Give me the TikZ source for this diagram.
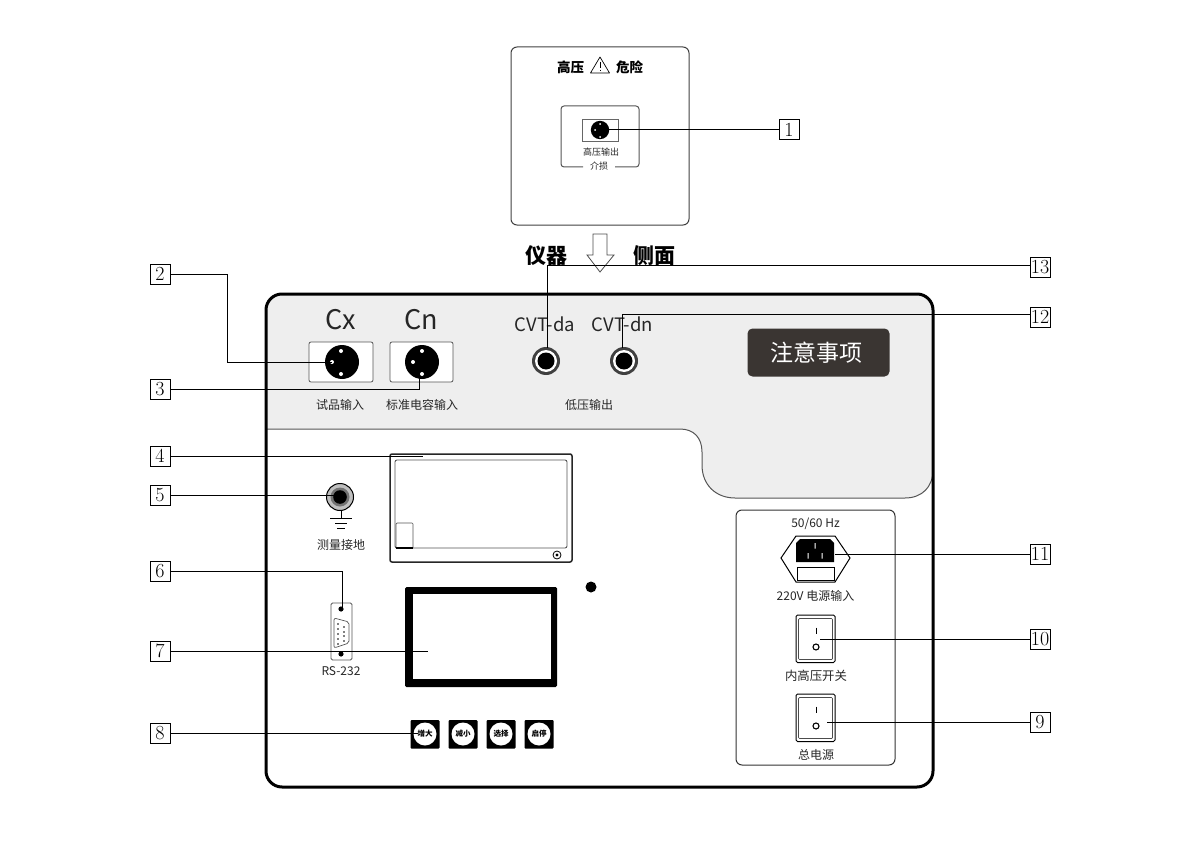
\documentclass[tikz,border=0pt]{standalone}
\usepackage{fontspec}
\newfontfamily\cjk{Noto Sans CJK SC}
\definecolor{panelgray}{HTML}{EEEEEE}
\definecolor{darkbox}{HTML}{3A3532}
\definecolor{edgegray}{HTML}{555555}
\tikzset{
 numbox/.style={draw=black,line width=1pt,minimum width=20pt,minimum height=20pt,inner sep=0pt,font=\fontsize{20}{20}\selectfont},
 lead/.style={draw=black,line width=1pt},
 txt/.style={inner sep=0pt,text=black!85,font=\cjk\fontsize{#1}{#1}\selectfont},
 btxt/.style={inner sep=0pt,font=\cjk\bfseries\fontsize{#1}{#1}\selectfont},
 thin box/.style={draw=edgegray,line width=0.8pt,rounded corners=2pt},
 pin/.style={fill=white,draw=none},
 keyface/.style={fill=black,draw=none,rounded corners=1pt},
 switchbox/.style={draw=black,line width=1pt,rounded corners=1.5pt,fill=white},
}
\begin{document}
\begin{tikzpicture}[x=1pt,y=-1pt]
\useasboundingbox (0,0) rectangle (1200,848);
% main panel
\fill[panelgray] (266,429) -- (266,310) .. controls (266,300) and (272,294) .. (282,294) -- (917,294) .. controls (927,294) and (933,300) .. (933,310) -- (933,470) .. controls (933,487) and (922,498) .. (905,498) -- (735,498) .. controls (716,498) and (702,485) .. (702,465) -- (702,452) .. controls (702,438) and (694,429) .. (680,429) -- cycle;
\draw[edgegray,line width=1pt] (266,429) -- (680,429) .. controls (694,429) and (702,438) .. (702,452) -- (702,465) .. controls (702,485) and (716,498) .. (735,498) -- (905,498) .. controls (922,498) and (933,487) .. (933,470);
\draw[black,line width=3pt,rounded corners=16pt] (266,294) rectangle (933,787);
% top panel
\draw[black!75,line width=1pt,rounded corners=6pt] (511,47) rectangle (689,225);
\node[btxt=13.5] (tg1) at (570.5,67) {高压};
\node[btxt=13.5] (tg2) at (629.5,67) {危险};
\draw[black,line width=0.7pt,line join=round] (600,57) -- (609.5,73) -- (590.5,73) -- cycle;
\draw[black,line width=0.8pt] (600,62) -- (600,68) (600,70) -- (600,71);
\draw[edgegray,line width=1pt,rounded corners=3pt] (583,167) -- (561,167) -- (561,106) -- (639,106) -- (639,167) -- (615,167);
\draw[black!60,line width=0.7pt] (582,119) rectangle (618,141);
\fill[black] (600,130) circle (9.2);
\foreach \p in {(600,124),(595,130),(600,137)} \fill[pin] \p circle (1);
\node[txt=9,font=\cjk\fontsize{9}{9}\selectfont] (ho) at (601,152) {高压输出};
\node[txt=9,font=\cjk\fontsize{9}{9}\selectfont] (js) at (599,166) {介损};
\coordinate (c1) at (601,130);
% arrow
\draw[black!70,line width=0.8pt,fill=white,line join=miter] (593,234) -- (607,234) -- (607,255) -- (614,255) -- (600,272) -- (587,255) -- (593,255) -- cycle;
\node[btxt=21] (yq) at (546,256) {仪器};
\node[btxt=21] (cm) at (654,256) {侧面};
% Cx Cn
\node[txt=27] (cx) at (340.5,320) {Cx};
\node[txt=27] (cn) at (421.5,320) {Cn};
\draw[thin box,fill=white] (309,342) rectangle (373,382);
\draw[thin box,fill=white] (390,342) rectangle (453,382);
\fill[black] (342,362) circle (17);
\fill[black] (422,362) circle (17);
\foreach \p in {(341,351),(332,362),(341,374),(422,351),(413,362),(422,374)} \fill[pin] \p circle (2);
\node[txt=12] (t1) at (340,405) {试品输入};
\node[txt=12] (t2) at (422,405) {标准电容输入};
\coordinate (c2) at (332,362);
\coordinate (c3) at (419,373);
% CVT
\node[txt=18.5] (da) at (545,324) {CVT-da};
\node[txt=18.5] (dn) at (622.5,324) {CVT-dn};
\foreach \x in {546,624}{
 \fill[black!75] (\x,361) circle (14);
 \fill[white] (\x,361) circle (11);
 \fill[black] (\x,361) circle (8.5);
}
\node[txt=12] (t3) at (589,405) {低压输出};
\coordinate (c12) at (622,348);
\coordinate (c13) at (547,348);
% notice
\node[fill=darkbox,rounded corners=5pt,minimum width=142pt,minimum height=48pt,inner sep=0pt,text=white,font=\cjk\fontsize{23}{23}\selectfont,align=center] (nt) at (818.5,352.5) {\hspace*{-4pt}注意事项};
% printer
\draw[black!85,line width=1.5pt,rounded corners=2pt] (390,454) rectangle (572,562);
\draw[edgegray,line width=0.9pt,rounded corners=2pt] (395,460) rectangle (567,548);
\draw[edgegray,line width=0.7pt,rounded corners=1pt] (396,548) -- (396,523) -- (413,523) -- (413,548);
\draw[black,line width=1.3pt] (396,548) -- (413,548);
\draw[black,line width=0.8pt] (557,555) circle (4);
\fill[black] (557,555) circle (1.6);
\coordinate (c4) at (423,456);
% ground
\draw[black,line width=1pt,fill=black!25] (340,497) circle (13.5);
\fill[black!55] (340,497) circle (9.5);
\fill[black] (340,497) circle (6.8);
\draw[black,line width=0.9pt] (341,511) -- (341,518) (330,518) -- (352,518) (335,523) -- (347,523) (337,528) -- (345,528);
\node[txt=12] (t5) at (341,545) {测量接地};
\coordinate (c5) at (335,495);
% RS232
\draw[edgegray,line width=0.8pt,rounded corners=1.5pt] (331,603) rectangle (352,660);
\fill[black] (341,609) circle (2.6);
\fill[black] (341,654) circle (2.6);
\draw[edgegray,line width=0.7pt,rounded corners=2pt] (334,618) -- (349,622) -- (349,643) -- (334,648) -- cycle;
\foreach \y in {624,629,634,639,644} \fill[black] (338,\y) circle (0.8);
\foreach \y in {627,632,636,641} \fill[black] (344,\y) circle (0.8);
\node[txt=12] (t6) at (341,671) {RS-232};
\coordinate (c6) at (342,607);
% screen
\fill[black,rounded corners=1.5pt] (405,587) rectangle (557,687);
\fill[white] (412.5,594) rectangle (550.5,679);
\fill[black] (591,587) circle (5.5);
\coordinate (c7) at (428,651);
% keys
\foreach \x/\s/\n in {425/增大/ka,463/减小/kb,501/选择/kc,539/启停/kd}{
 \fill[keyface] (\x-14.5,720) rectangle (\x+14.5,748.5);
 \fill[white] (\x,734) circle (11.5);
 \node[btxt=7.5] (\n) at (\x,734) {\s};
}
\coordinate (c8) at (418,733);
% right box
\draw[black!80,line width=1pt,rounded corners=6pt] (736,510) rectangle (895,765);
\node[txt=12] (t11a) at (815.5,524) {50/60 Hz};
\draw[black,line width=1pt,line join=miter] (781,558) -- (796,536) -- (835,536) -- (850,558) -- (835,582) -- (796,582) -- cycle;
\fill[black] (796,562) -- (796,543) -- (800,539) -- (830,539) -- (834,543) -- (834,562) -- cycle;
\fill[white] (814.5,543) rectangle (815.5,548.5) (807.5,553) rectangle (808.7,558.5) (821.5,553) rectangle (822.7,558.5);
\draw[black,line width=1pt] (797,567) rectangle (834,580);
\node[txt=12] (t11b) at (815.5,596) {220V 电源输入};
\coordinate (c11) at (835,554);
\foreach \t in {615,694}{
 \draw[switchbox] (796,\t) rectangle (835,\t+47.5);
 \draw[black!70,line width=0.7pt,rounded corners=1pt] (798.5,\t+3.5) rectangle (832.5,\t+44.5);
 \draw[black,line width=1pt] (816,\t+12.5) -- (816,\t+19);
 \draw[black,line width=1.1pt] (816,\t+32) circle (3);
}
\coordinate (c10) at (820,639);
\coordinate (c9) at (827,722);
\node[txt=12.4] (t10) at (816,676) {内高压开关};
\node[txt=12] (t9) at (816,755) {总电源};
% numbered boxes
\node[numbox] (n1) at (789,130) {1};
\node[numbox] (n2) at (160,274) {2};
\node[numbox] (n3) at (160,389) {3};
\node[numbox] (n4) at (160,456) {4};
\node[numbox] (n5) at (160,495) {5};
\node[numbox] (n6) at (160,571.5) {6};
\node[numbox] (n7) at (160,651) {7};
\node[numbox] (n8) at (160,733) {8};
\node[numbox] (n9) at (1040,722) {9};
\node[numbox] (n10) at (1040,639) {10};
\node[numbox] (n11) at (1040,554) {11};
\node[numbox] (n12) at (1040,317) {12};
\node[numbox] (n13) at (1040,267) {13};
% leaders
\draw[lead] (n1.west) -- (c1);
\draw[lead] (n2.east) -- (227,274) |- (c2);
\draw[lead] (n3.east) -| (c3);
\draw[lead] (n4.east) -- (c4);
\draw[lead] (n5.east) -- (c5);
\draw[lead] (n6.east) -| (c6);
\draw[lead] (n7.east) -- (c7);
\draw[lead] (n8.east) -- (c8);
\draw[lead] (n9.west) -- (c9);
\draw[lead] (n10.west) -- (c10);
\draw[lead] (n11.west) -- (c11);
\draw[lead] (n12.west |- 0,314) -| (c12);
\draw[lead] (n13.west |- 0,265) -| (c13);
\end{tikzpicture}
\end{document}
